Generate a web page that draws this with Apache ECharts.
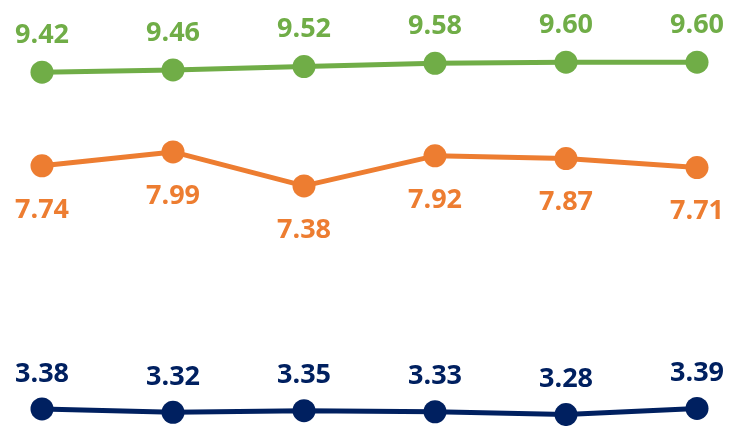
<!DOCTYPE html>
<html>
<head>
<meta charset="utf-8">
<script src="https://cdn.jsdelivr.net/npm/echarts@6/dist/echarts.min.js"></script>
<style>
  html, body { margin: 0; padding: 0; background: #fff; }
  #chart { width: 731px; height: 426px; }
</style>
</head>
<body>
<div id="chart"></div>
<script>
// 数据
var categories = ['1', '2', '3', '4', '5', '6'];
var greenValues = [9.42, 9.46, 9.52, 9.58, 9.60, 9.60];
var orangeValues = [7.74, 7.99, 7.38, 7.92, 7.87, 7.71];
var navyValues = [3.38, 3.32, 3.35, 3.33, 3.28, 3.39];

function lineSeries(name, data, color, pos, dist) {
    return {
        name: name,
        type: 'line',
        data: data,
        symbol: 'circle',
        symbolSize: 23,
        lineStyle: { color: color, width: 5 },
        itemStyle: { color: color },
        label: {
            show: true,
            position: pos,
            distance: dist,
            color: color,
            fontFamily: 'Open Sans',
            fontWeight: 'bold',
            fontSize: 27,
            formatter: function (p) { return p.value.toFixed(2); }
        }
    };
}

var myChart = echarts.init(document.getElementById('chart'));
var option = {
    animation: false,
    grid: { left: 42, right: 34, top: 51, bottom: 7 },
    xAxis: {
        type: 'category',
        boundaryGap: false,
        data: categories,
        show: false
    },
    yAxis: {
        type: 'value',
        min: 3.2,
        max: 9.8,
        show: false
    },
    series: [
        lineSeries('green', greenValues, '#70AD47', 'top', 12),
        lineSeries('orange', orangeValues, '#ED7D31', 'bottom', 19),
        lineSeries('navy', navyValues, '#002060', 'top', 10)
    ]
};
myChart.setOption(option);
</script>
</body>
</html>
